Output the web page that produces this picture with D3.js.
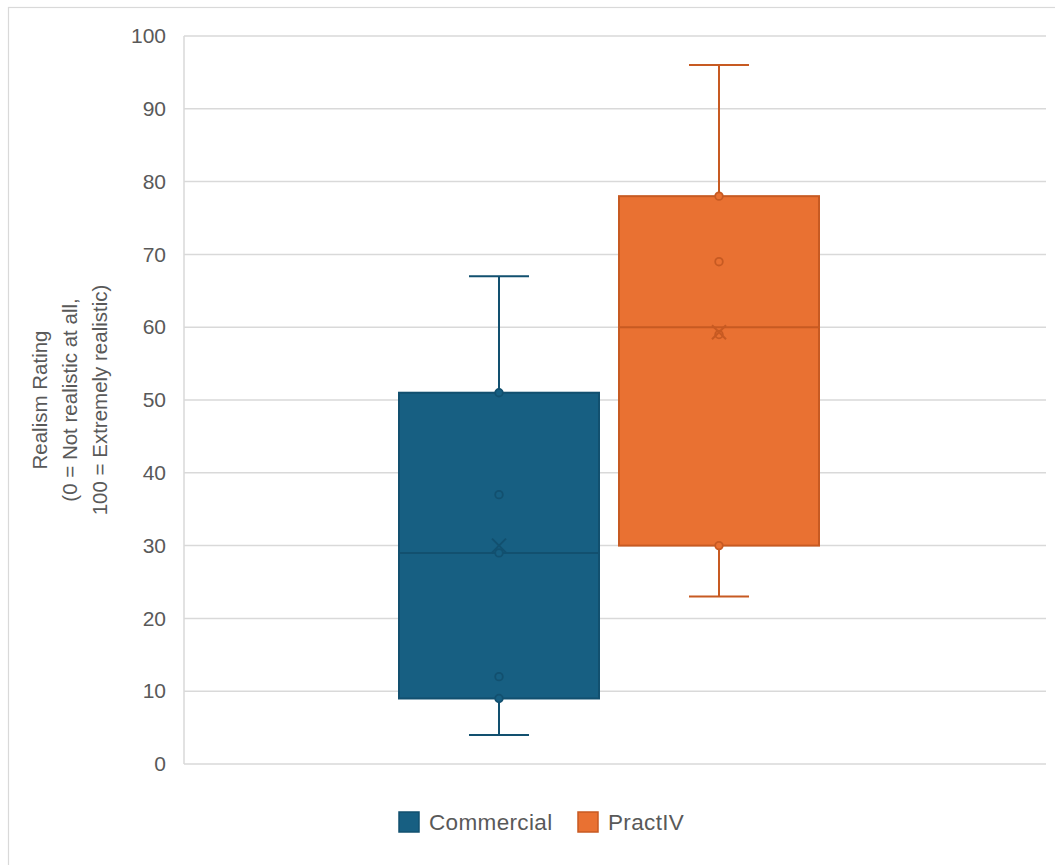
<!DOCTYPE html>
<html><head><meta charset="utf-8">
<script src="https://cdn.jsdelivr.net/npm/d3@7"></script>
<style>body{margin:0;background:#fff;font-family:"Liberation Sans",Arial,sans-serif;}</style>
</head><body>
<svg id="c" width="1055" height="865"></svg>
<script>
const categories = ["Commercial", "PractIV"];
const whiskerLow = [4, 23];
const q1 = [9, 30];
const median = [29, 60];
const q3 = [51, 78];
const whiskerHigh = [67, 96];
const means = [30, 59.3];
const innerPoints = [[9, 12, 29, 37, 51], [30, 59, 69, 78]];
const yTicks = [0, 10, 20, 30, 40, 50, 60, 70, 80, 90, 100];
const fills = ["#175F82", "#E97132"];
const strokes = ["#12506F", "#C75A22"];

const FONT = "'Liberation Sans',Arial,sans-serif";
const svg = d3.select("#c");
svg.append("rect").attr("x", 8.5).attr("y", 7.5).attr("width", 1060).attr("height", 870)
  .attr("fill", "#fff").attr("stroke", "#d9d9d9").attr("stroke-width", 1.2);

const L = 184, R = 1046, T = 36, B = 764;
const y = d3.scaleLinear().domain([0, 100]).range([B, T]);
const xb = d3.scalePoint().domain(categories).range([499, 719]);
const boxW = 200;

// gridlines
const g = svg.append("g");
g.selectAll("line.grid").data(yTicks).join("line")
  .attr("x1", L).attr("x2", R).attr("y1", d => y(d)).attr("y2", d => y(d))
  .attr("stroke", "#d9d9d9").attr("stroke-width", 1.5);
g.append("line").attr("x1", L).attr("x2", L).attr("y1", T).attr("y2", B)
  .attr("stroke", "#d9d9d9").attr("stroke-width", 1.5);

// y axis labels
const ax = svg.append("g").attr("transform", `translate(${L},0)`)
  .call(d3.axisLeft(y).tickValues(yTicks).tickSize(0).tickPadding(18));
ax.select(".domain").remove();
ax.selectAll("text").attr("fill", "#595959").style("font-size", "21px")
  .style("font-family", FONT);

// y title
const tt = svg.append("text").attr("transform", "translate(70,400) rotate(-90)")
  .attr("text-anchor", "middle").attr("fill", "#595959").style("font-size", "20.5px")
  .style("font-family", FONT);
["Realism Rating", "(0 = Not realistic at all,", "100 = Extremely realistic)"].forEach((t, i) => {
  tt.append("tspan").attr("x", 0).attr("dy", i === 0 ? -23 : 30).text(t);
});

// boxes
categories.forEach((c, i) => {
  const cx = xb(c);
  const gg = svg.append("g");
  gg.append("line").attr("x1", cx).attr("x2", cx).attr("y1", y(whiskerHigh[i])).attr("y2", y(q3[i]))
    .attr("stroke", strokes[i]).attr("stroke-width", 2);
  gg.append("line").attr("x1", cx).attr("x2", cx).attr("y1", y(q1[i])).attr("y2", y(whiskerLow[i]))
    .attr("stroke", strokes[i]).attr("stroke-width", 2);
  [whiskerHigh[i], whiskerLow[i]].forEach(v => {
    gg.append("line").attr("x1", cx - 30).attr("x2", cx + 30).attr("y1", y(v)).attr("y2", y(v))
      .attr("stroke", strokes[i]).attr("stroke-width", 2);
  });
  gg.append("rect").attr("x", cx - boxW / 2).attr("width", boxW)
    .attr("y", y(q3[i])).attr("height", y(q1[i]) - y(q3[i]))
    .attr("fill", fills[i]).attr("stroke", strokes[i]).attr("stroke-width", 2);
  gg.append("line").attr("x1", cx - boxW / 2).attr("x2", cx + boxW / 2)
    .attr("y1", y(median[i])).attr("y2", y(median[i]))
    .attr("stroke", strokes[i]).attr("stroke-width", 2);
  innerPoints[i].forEach(v => {
    gg.append("circle").attr("cx", cx).attr("cy", y(v)).attr("r", 3.8)
      .attr("fill", fills[i]).attr("stroke", strokes[i]).attr("stroke-width", 1.8);
  });
  const my = y(means[i]), s = 7;
  gg.append("path").attr("d", `M${cx - s},${my - s}L${cx + s},${my + s}M${cx - s},${my + s}L${cx + s},${my - s}`)
    .attr("stroke", strokes[i]).attr("stroke-width", 2).attr("fill", "none");
});

// legend
const leg = svg.append("g");
const lx = [399, 578];
categories.forEach((c, i) => {
  leg.append("rect").attr("x", lx[i]).attr("y", 812).attr("width", 20).attr("height", 20)
    .attr("fill", fills[i]).attr("stroke", strokes[i]).attr("stroke-width", 1.5);
  leg.append("text").attr("x", lx[i] + 30).attr("y", 830).attr("fill", "#595959")
    .style("font-size", "22.5px").style("letter-spacing", "0.35px").style("font-family", FONT).text(c);
});
</script>
</body></html>
